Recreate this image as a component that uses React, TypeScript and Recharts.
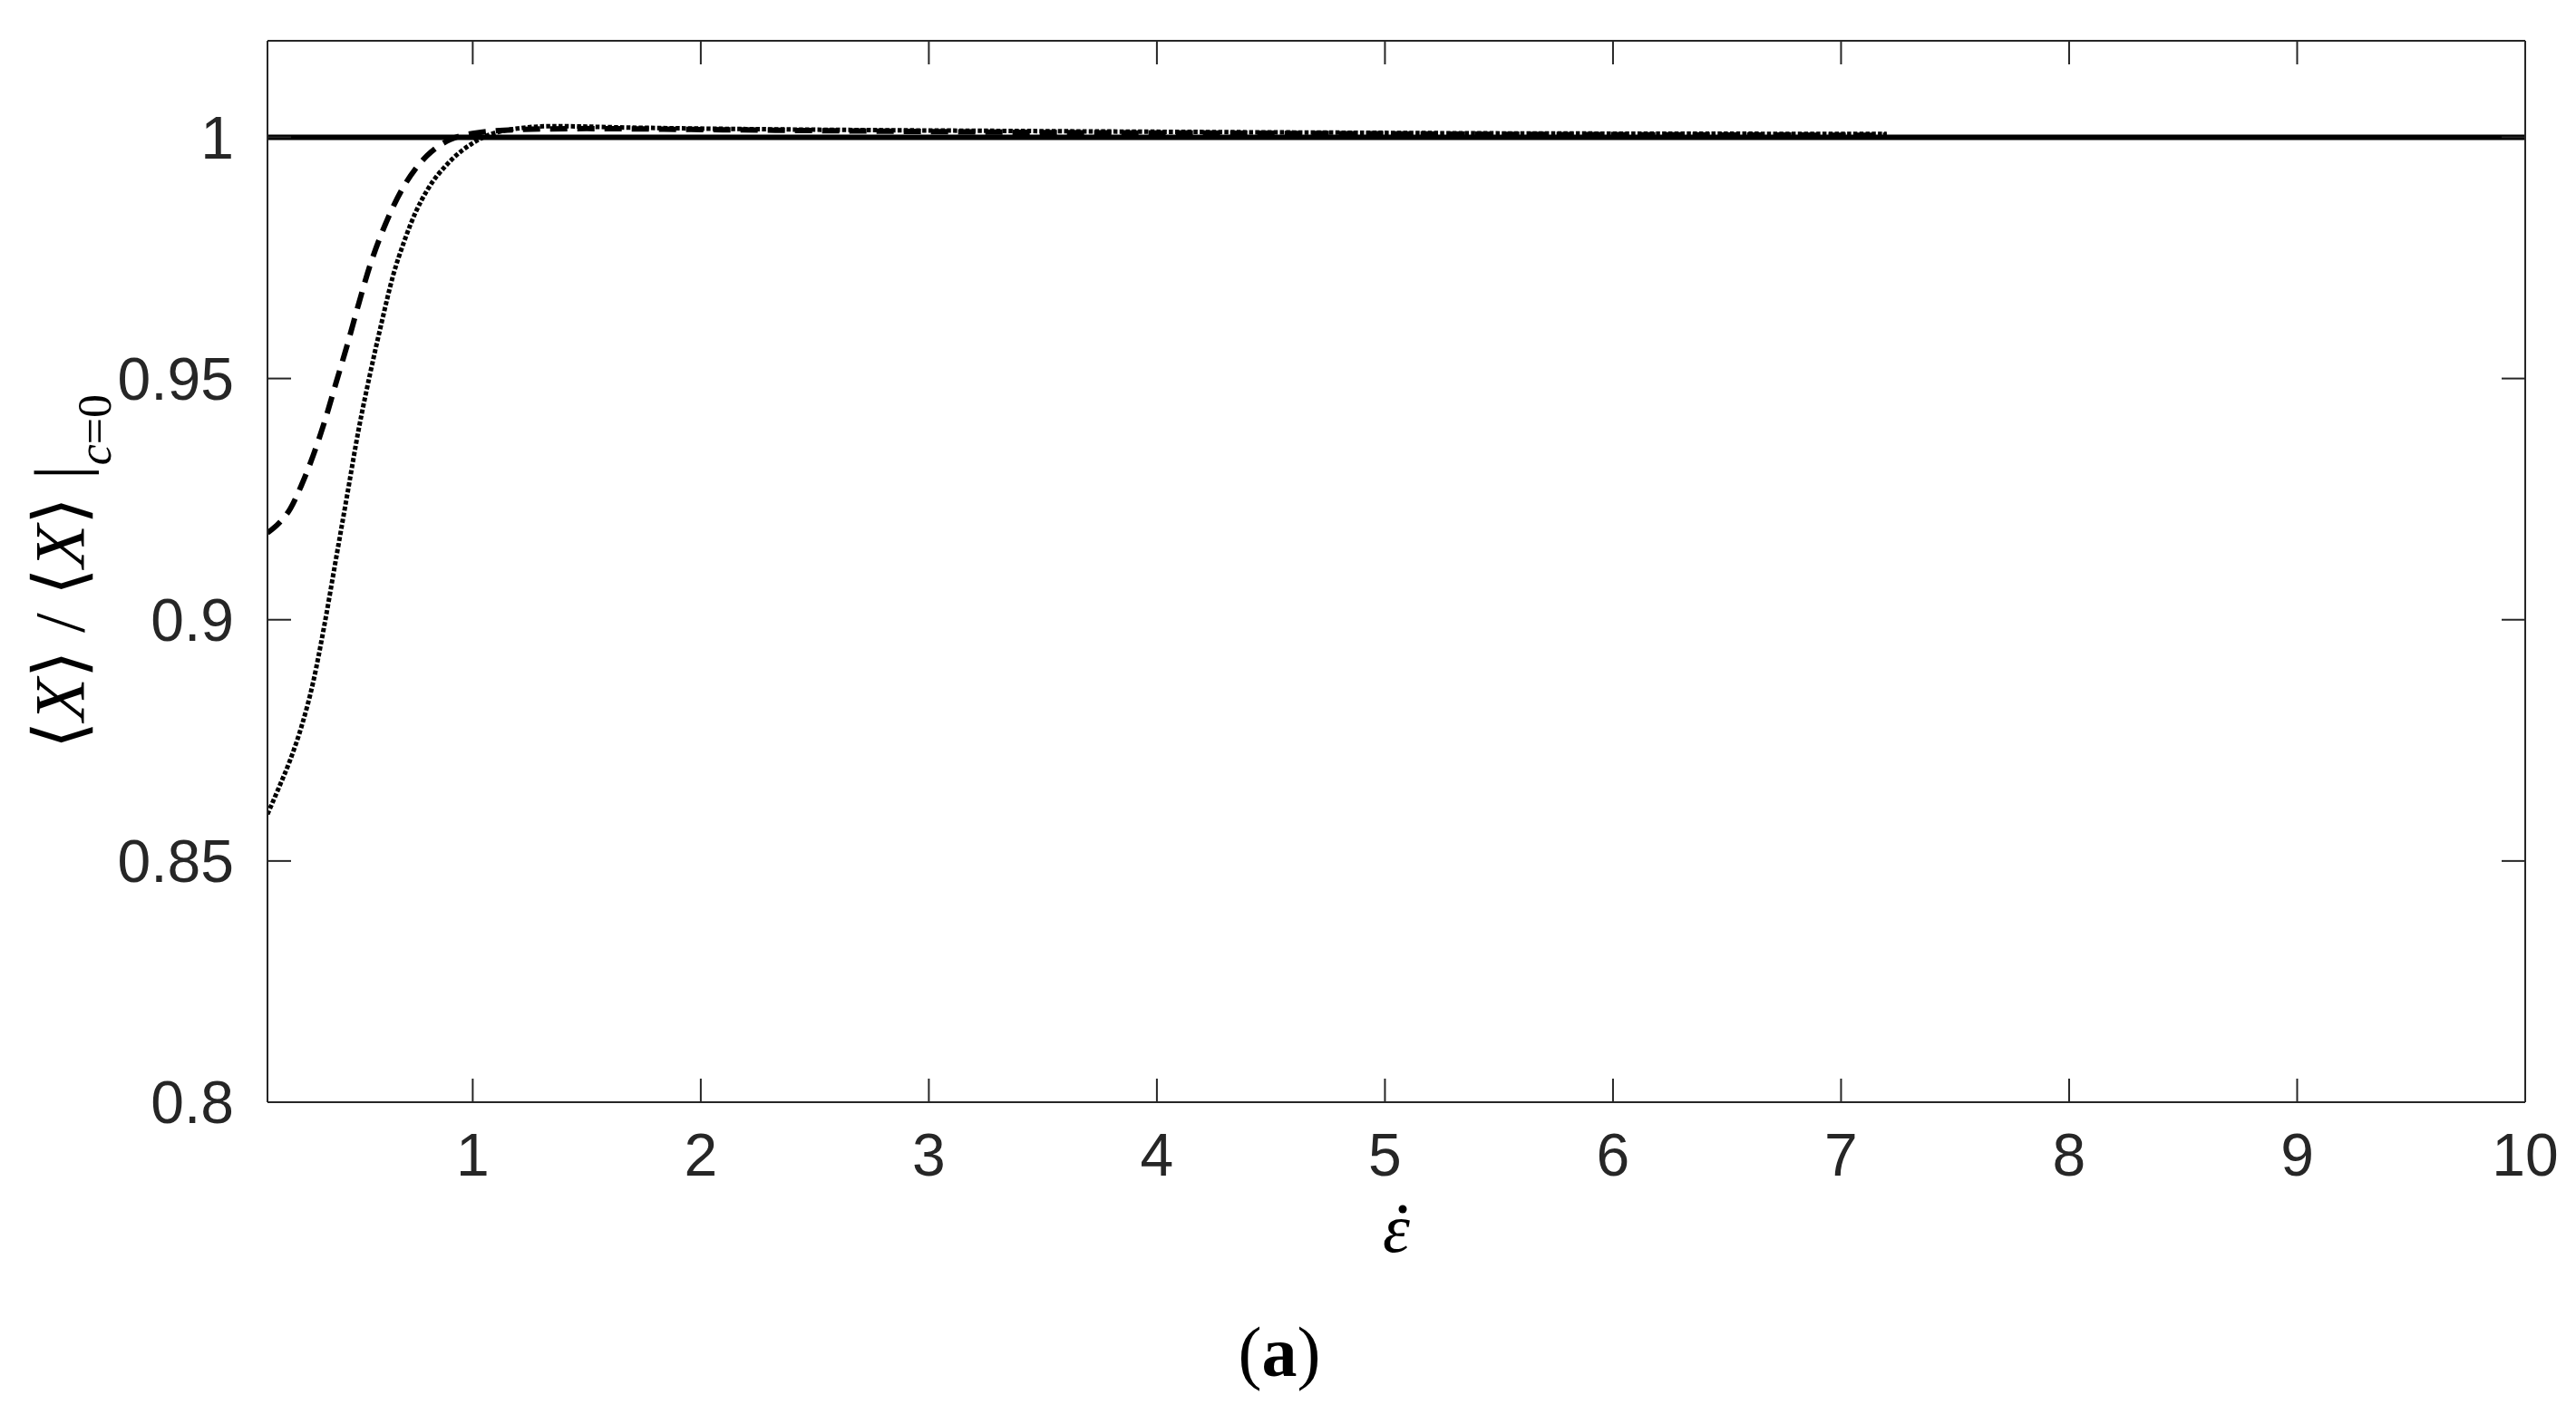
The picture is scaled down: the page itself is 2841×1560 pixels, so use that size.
import { Label, Line, LineChart, XAxis, YAxis } from "recharts";

const AXIS_COLOR = "#262626";
const TICK_FONT = "'Liberation Sans', Arial, sans-serif";
const MATH_FONT = "'Liberation Serif', 'DejaVu Serif', serif";

const X_TICKS = [1, 2, 3, 4, 5, 6, 7, 8, 9, 10];
const Y_TICKS = [0.8, 0.85, 0.9, 0.95, 1];

// reference curve (c = 0)
const solidX = [0.1, 10];
const solidY = [1, 1];

const dashedX = [
  0.1, 0.15, 0.2, 0.25, 0.3, 0.35, 0.4, 0.45, 0.5, 0.55, 0.6, 0.65, 0.7,
  0.75, 0.8, 0.9, 1.0, 1.2, 1.5, 2.0, 2.7, 3.5, 4.6, 5.6, 7.2,
];
const dashedY = [
  0.918, 0.92, 0.923, 0.928, 0.934, 0.941, 0.949, 0.957, 0.9655, 0.9735,
  0.98, 0.9855, 0.99, 0.9935, 0.9962, 0.9995, 1.0008, 1.0016, 1.0018,
  1.0016, 1.0013, 1.001, 1.0008, 1.0006, 1.0004,
];

const dottedX = [
  0.1, 0.15, 0.2, 0.25, 0.3, 0.35, 0.4, 0.45, 0.5, 0.55, 0.6, 0.65, 0.7,
  0.75, 0.8, 0.9, 1.0, 1.15, 1.35, 1.7, 2.2, 2.7, 3.4, 4.6, 5.6, 7.2,
];
const dottedY = [
  0.8597, 0.8652, 0.871, 0.878, 0.887, 0.899, 0.9125, 0.926, 0.9395, 0.951,
  0.9615, 0.9712, 0.9785, 0.9845, 0.989, 0.995, 0.9988, 1.0015, 1.0023,
  1.002, 1.0017, 1.0015, 1.0013, 1.001, 1.0008, 1.0007,
];

const toPoints = (xs: number[], ys: number[]) =>
  xs.map((x, i) => ({ x, y: ys[i] }));

const solidData = toPoints(solidX, solidY);
const dashedData = toPoints(dashedX, dashedY);
const dottedData = toPoints(dottedX, dottedY);

const noLabel = () => "";

function YTitle({ viewBox }: any) {
  const cx = viewBox.x + 92;
  const cy = viewBox.y + viewBox.height / 2;
  return (
    <text
      x={cx}
      y={cy}
      transform={`rotate(-90 ${cx} ${cy})`}
      textAnchor="middle"
      fontFamily={MATH_FONT}
      fontSize={78}
      fill="#000"
    >
      <tspan>⟨</tspan>
      <tspan fontStyle="italic">X</tspan>
      <tspan>⟩ / ⟨</tspan>
      <tspan fontStyle="italic">X</tspan>
      <tspan>⟩ |</tspan>
      <tspan fontSize={52} dy={30}>
        <tspan fontStyle="italic">c</tspan>=0
      </tspan>
    </text>
  );
}

// epsilon with an overdot (drawn as a small circle)
function XTitle({ viewBox }: any) {
  const cx = viewBox.x + viewBox.width / 2;
  const base = viewBox.y + 165;
  return (
    <g>
      <text
        x={cx}
        y={base}
        textAnchor="middle"
        fontFamily={MATH_FONT}
        fontStyle="italic"
        fontSize={76}
        fill="#000"
      >
        ε
      </text>
      <circle cx={cx + 7} cy={base - 47} r={4.5} fill="#000" />
    </g>
  );
}

export default function App() {
  const tickStyle = { fill: AXIS_COLOR, fontSize: 66, fontFamily: TICK_FONT };
  const lineStyle = { stroke: AXIS_COLOR, strokeWidth: 2 };

  return (
    <div
      style={{
        position: "absolute",
        left: 0,
        top: 0,
        width: 2841,
        height: 1560,
        background: "#fff",
      }}
    >
      <LineChart
        width={2841}
        height={1560}
        margin={{ top: 44, right: 55, bottom: 0, left: 0 }}
      >
        <XAxis
          dataKey="x"
          type="number"
          domain={[0.1, 10]}
          ticks={X_TICKS}
          interval={0}
          allowDataOverflow
          height={344}
          tickSize={-26}
          tickMargin={60}
          tick={tickStyle}
          axisLine={lineStyle}
          tickLine={lineStyle}
        >
          <Label content={XTitle} />
        </XAxis>
        <XAxis
          xAxisId="top"
          orientation="top"
          dataKey="x"
          type="number"
          domain={[0.1, 10]}
          ticks={X_TICKS}
          interval={0}
          allowDataOverflow
          height={1}
          tickSize={-26}
          tickFormatter={noLabel}
          axisLine={lineStyle}
          tickLine={lineStyle}
        />
        <YAxis
          type="number"
          domain={[0.8, 1.02]}
          ticks={Y_TICKS}
          interval={0}
          allowDataOverflow
          width={295}
          tickSize={-26}
          tickMargin={63}
          tick={tickStyle}
          axisLine={lineStyle}
          tickLine={lineStyle}
        >
          <Label content={YTitle} />
        </YAxis>
        <YAxis
          yAxisId="right"
          orientation="right"
          type="number"
          domain={[0.8, 1.02]}
          ticks={Y_TICKS}
          interval={0}
          allowDataOverflow
          width={1}
          tickSize={-26}
          tickFormatter={noLabel}
          axisLine={lineStyle}
          tickLine={lineStyle}
        />
        <Line
          data={dashedData}
          dataKey="y"
          type="monotone"
          stroke="#000"
          strokeWidth={6}
          strokeDasharray="19 11"
          dot={false}
          isAnimationActive={false}
        />
        <Line
          data={dottedData}
          dataKey="y"
          type="monotone"
          stroke="#000"
          strokeWidth={5}
          strokeDasharray="4.5 2.3"
          dot={false}
          isAnimationActive={false}
        />
        {/* solid c=0 curve sits on the mirrored axes (same domains) */}
        <Line
          data={solidData}
          dataKey="y"
          xAxisId="top"
          yAxisId="right"
          type="linear"
          stroke="#000"
          strokeWidth={6}
          dot={false}
          isAnimationActive={false}
        />
      </LineChart>
      <div
        style={{
          position: "absolute",
          left: 1211,
          top: 1453,
          width: 400,
          textAlign: "center",
          fontFamily: MATH_FONT,
          fontSize: 78,
          lineHeight: "78px",
          color: "#000",
        }}
      >
        (<b>a</b>)
      </div>
    </div>
  );
}
